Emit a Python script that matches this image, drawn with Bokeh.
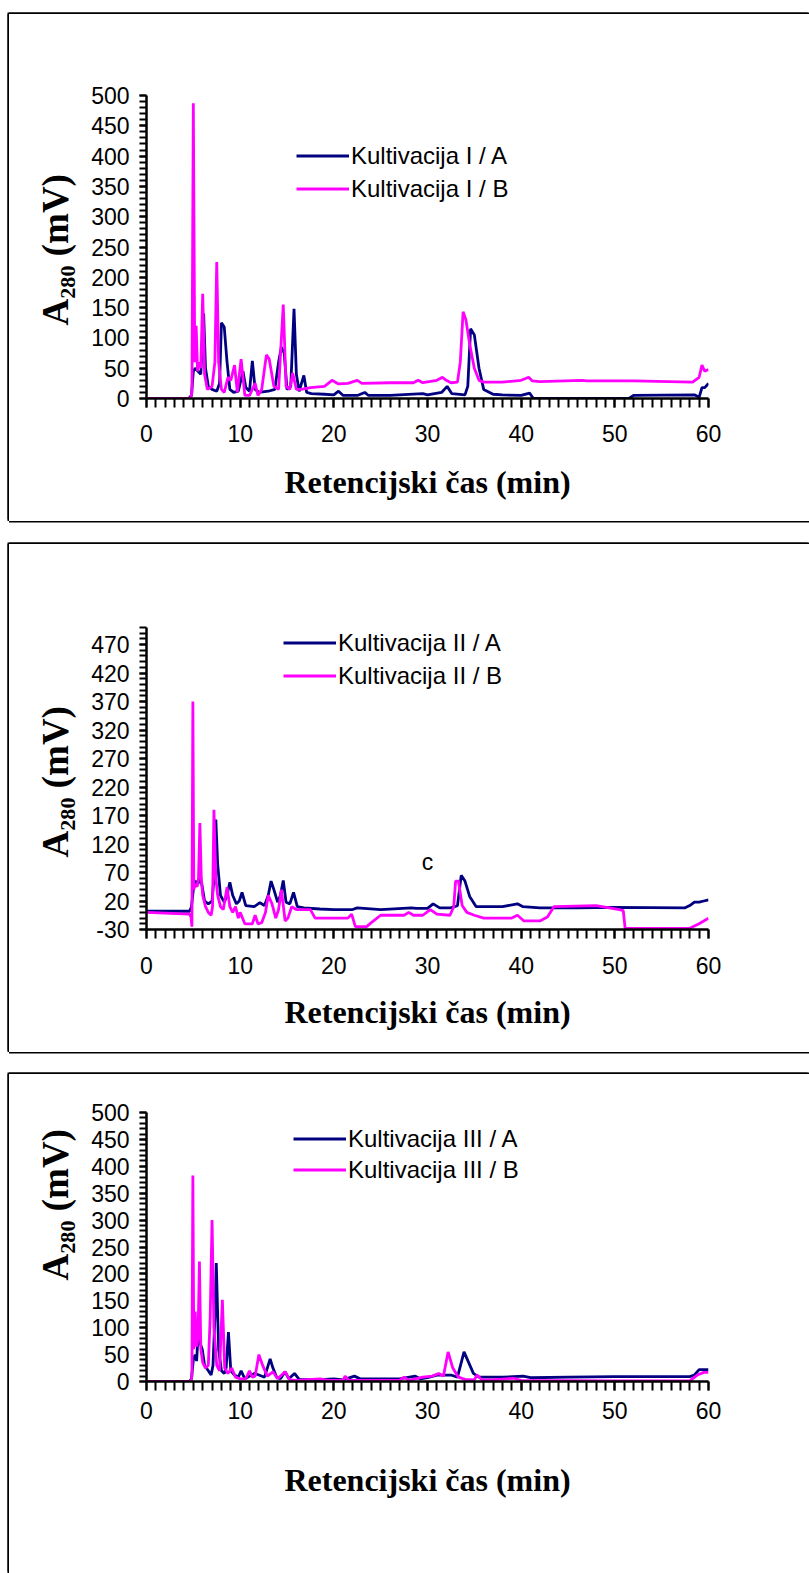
from bokeh.plotting import figure
from bokeh.models import Range1d, FixedTicker, Legend, LegendItem, Label, Title
from bokeh.layouts import column
from bokeh.embed import file_html
from bokeh.resources import INLINE

NAVY = "#000080"
MAG = "#FF00FF"

# ---------------- data ----------------
x_major = [0, 10, 20, 30, 40, 50, 60]
x_minor = list(range(0, 61))

y_major_1 = [0, 50, 100, 150, 200, 250, 300, 350, 400, 450, 500]
y_minor_1 = list(range(0, 501, 10))
y_major_2 = [-30, 20, 70, 120, 170, 220, 270, 320, 370, 420, 470]
y_minor_2 = list(range(-30, 501, 10))

x_title = "Retencijski čas (min)"
y_title = "A\u2082\u2088\u2080 (mV)"
legend_1 = ["Kultivacija I / A", "Kultivacija I / B"]
legend_2 = ["Kultivacija II / A", "Kultivacija II / B"]
legend_3 = ["Kultivacija III / A", "Kultivacija III / B"]

# Panel 1
t1a = [0, 4.5, 4.8, 5.0, 5.2, 5.5, 5.8, 6.1, 6.3, 6.6, 7.0, 7.5, 7.8, 8.0, 8.3, 8.6, 8.9, 9.3, 9.8,
       10.3, 10.6, 11.0, 11.3, 11.6, 12.0, 13.0, 13.7, 14.1, 14.4, 14.7, 15.0, 15.4, 15.75, 16.0,
       16.3, 16.8, 17.1, 17.6, 19.0, 20.0, 20.5, 21.0, 22.5, 23.3, 23.7, 26.0, 29.5, 30.0, 31.5,
       32.1, 32.6, 34.0, 34.3, 34.6, 35.0, 35.5, 36.0, 37.0, 38.0, 40.0, 40.9, 41.3, 51.5, 52.0,
       58.5, 59.0, 59.3, 59.6, 60.0]
v1a = [0, 0, 5, 45, 50, 45, 40, 140, 50, 20, 15, 12, 25, 125, 118, 60, 15, 10, 12,
       45, 18, 12, 62, 15, 10, 12, 15, 60, 85, 75, 15, 20, 148, 40,
       12, 38, 10, 8, 7, 6, 12, 5, 5, 10, 5, 5, 8, 6, 10,
       20, 8, 6, 20, 115, 105, 50, 15, 7, 6, 5, 9, 0, 0, 5,
       6, 2, 18, 18, 25]

t1b = [0, 4.7, 4.85, 5.0, 5.15, 5.3, 5.45, 5.6, 5.8, 6.0, 6.2, 6.5, 7.0, 7.3, 7.5, 7.7, 8.0, 8.3,
       8.7, 9.0, 9.4, 9.7, 10.1, 10.5, 11.0, 11.3, 11.6, 11.9, 12.3, 12.8, 13.1, 13.6, 14.1, 14.6,
       14.9, 15.3, 15.6, 16.0, 16.5, 17.5, 19.0, 19.8, 20.5, 21.5, 22.5, 23.0, 26.0, 28.5, 29.0,
       29.5, 31.0, 31.6, 32.0, 32.5, 33.2, 33.5, 33.8, 34.1, 34.5, 35.0, 35.5, 36.0, 38.0, 40.0,
       40.8, 41.2, 42.0, 46.5, 47.0, 52.0, 58.3, 59.0, 59.3, 59.6, 60.0]
v1b = [0, 0, 10, 487, 60, 120, 45, 60, 50, 173, 40, 15, 20, 60, 225, 60, 15, 10,
       35, 30, 55, 10, 65, 5, 5, 15, 25, 5, 15, 72, 65, 20, 15, 155,
       20, 15, 42, 15, 15, 18, 20, 30, 24, 25, 30, 25, 26, 26, 30,
       26, 30, 35, 30, 26, 27, 60, 143, 130, 90, 50, 30, 27, 27, 30,
       35, 29, 28, 30, 29, 29, 27, 35, 55, 45, 48]

# Panel 2
t2a = [0, 4.6, 4.8, 5.0, 5.2, 5.5, 5.7, 5.9, 6.2, 6.6, 7.0, 7.2, 7.4, 7.6, 7.9, 8.3, 8.6, 8.9, 9.2,
       9.6, 9.9, 10.2, 10.6, 11.5, 12.1, 12.6, 13.0, 13.3, 13.6, 14.0, 14.3, 14.6, 14.9, 15.3,
       15.7, 16.1, 16.8, 18.5, 20.0, 22.0, 22.5, 25.0, 28.3, 28.8, 30.0, 30.6, 31.3, 32.5, 33.2,
       33.6, 34.0, 34.5, 35.2, 36.0, 38.0, 39.6, 40.2, 42.0, 46.0, 50.0, 57.5, 58.0, 58.5, 59.0,
       59.5, 60.0]
v2a = [2, 2, 10, 40, 55, 50, 60, 50, 20, 15, 20, 60, 163, 84, 30, 18, 30, 53, 30,
       15, 20, 35, 12, 10, 17, 12, 30, 55, 40, 18, 30, 56, 18, 15,
       35, 10, 8, 6, 5, 5, 8, 5, 8, 7, 7, 15, 8, 8, 12,
       65, 55, 28, 10, 10, 10, 15, 10, 8, 8, 9, 8, 12, 18, 18,
       20, 22]

t2b = [0, 4.6, 4.75, 4.85, 4.95, 5.05, 5.2, 5.4, 5.55, 5.7, 5.85, 6.0, 6.3, 6.6, 6.9, 7.05, 7.2,
       7.4, 7.6, 7.9, 8.2, 8.6, 8.9, 9.2, 9.5, 9.8, 10.0, 10.5, 11.3, 11.6, 11.9, 12.3, 12.7,
       13.0, 13.4, 13.8, 14.1, 14.4, 14.8, 15.1, 15.5, 16.0, 17.5, 18.0, 18.3, 21.5, 21.9, 22.3,
       23.5, 24.0, 25.0, 27.5, 28.0, 28.5, 29.5, 30.3, 31.0, 32.4, 32.8, 33.0, 33.3, 33.7, 34.2,
       35.0, 36.0, 39.0, 39.6, 40.3, 42.0, 42.8, 43.5, 48.0, 50.5, 50.9, 51.1, 57.5, 58.0, 59.0,
       60.0]
v2b = [0, -3, -8, -25, 370, 40, 50, 45, 60, 157, 60, 30, 10, 0, -5, 10, 180,
       60, 30, 10, 5, 44, 10, 0, 10, -10, 0, -20, -20, -5, -20, -18, 0,
       30, 15, -10, 5, 40, -15, -10, 10, 5, 5, -10, -10, -10, -3, -25,
       -25, -18, -5, -5, 0, -5, -5, 5, -3, -5, 10, 55, 55, 12, 0,
       -5, -10, -10, -5, -15, -15, -8, 10, 12, 5, 3, -28, -28, -28, -20,
       -10]

# Panel 3
t3a = [0, 4.6, 4.8, 5.0, 5.2, 5.35, 5.55, 5.75, 5.95, 6.2, 6.6, 6.9, 7.1, 7.3, 7.45, 7.7, 8.0,
       8.3, 8.5, 8.75, 9.0, 9.4, 9.8, 10.1, 10.5, 11.0, 11.5, 12.0, 12.6, 13.2, 13.5, 13.9, 14.3,
       14.8, 15.2, 15.8, 16.3, 18.0, 20.0, 21.0, 22.2, 22.8, 27.0, 28.7, 29.2, 30.0, 31.0, 32.5,
       33.2, 33.9, 34.4, 34.9, 35.5, 38.0, 40.2, 41.0, 45.0, 50.0, 58.0, 58.5, 59.0, 59.4, 60.0]
v3a = [0, 0, 5, 40, 50, 38, 100, 70, 60, 30, 20, 12, 30, 120, 220, 60, 20,
       15, 25, 92, 20, 12, 8, 20, 5, 10, 15, 12, 8, 42, 25, 8, 5,
       18, 5, 15, 4, 3, 5, 3, 10, 5, 5, 10, 5, 7, 12, 12,
       8, 55, 35, 15, 8, 8, 10, 7, 8, 9, 9, 12, 22, 22, 22]

t3b = [0, 4.75, 4.85, 4.95, 5.05, 5.2, 5.35, 5.5, 5.65, 5.8, 6.0, 6.3, 6.6, 6.8, 7.0, 7.2, 7.5,
       7.8, 8.1, 8.35, 8.7, 9.1, 9.5, 10.0, 10.6, 11.0, 11.3, 11.6, 12.0, 12.4, 12.9, 13.5, 14.0,
       14.8, 15.3, 16.0, 18.5, 19.5, 21.0, 21.2, 21.6, 27.0, 27.5, 28.0, 29.5, 30.5, 31.2, 31.7,
       32.2, 32.7, 33.3, 34.0, 35.0, 35.3, 35.8, 37.0, 39.2, 40.0, 50.0, 58.0, 58.8, 59.5, 60.0]
v3b = [0, 0, 10, 383, 60, 130, 65, 80, 223, 60, 35, 25, 30, 120, 300, 100, 30,
       20, 152, 25, 15, 25, 8, 5, 5, 20, 8, 10, 50, 30, 10, 18, 5,
       18, 3, 2, 5, 2, 2, 10, 2, 2, 8, 2, 8, 10, 15, 10,
       55, 25, 8, 4, 3, 12, 3, 3, 6, 2, 1, 1, 12, 17, 17]

SANS = "Liberation Sans"
SERIF = "Liberation Serif"


def make_panel(cfg):
    y0, y1 = cfg["yrange"]
    p = figure(width=800, height=cfg["height"], x_range=Range1d(0, 60),
               y_range=Range1d(y0, y1), output_backend="svg", toolbar_location=None,
               min_border_left=137, min_border_right=101,
               min_border_top=cfg["mbt"], min_border_bottom=cfg["mbb"],
               margin=cfg["margin"],
               styles={"box-shadow": "-1.5px 0 0 0 #000, 0 -1.5px 0 0 #000, -1.5px -1.5px 0 0 #000"
                       + (", 0 1.5px 0 0 #000" if cfg["bottom_border"] else "")})
    p.outline_line_color = None
    p.grid.visible = False
    p.background_fill_color = "white"
    p.border_fill_color = "white"

    xa = p.xaxis[0]
    xa.ticker = FixedTicker(ticks=x_major, minor_ticks=x_minor)
    xa.axis_line_width = 2.5
    xa.axis_line_color = "black"
    xa.major_tick_line_width = 2
    xa.minor_tick_line_width = 2
    xa.major_tick_line_color = "black"
    xa.minor_tick_line_color = "black"
    xa.major_tick_in = 0
    xa.major_tick_out = 9
    xa.minor_tick_in = 0
    xa.minor_tick_out = 9
    xa.major_label_text_font = SANS
    xa.major_label_text_font_size = "23px"
    xa.major_label_text_color = "black"
    xa.major_label_standoff = cfg["xstand"]
    xa.axis_label = x_title
    xa.axis_label_text_font = SERIF
    xa.axis_label_text_font_style = "bold"
    xa.axis_label_text_font_size = "32px"
    xa.axis_label_text_color = "black"
    xa.axis_label_standoff = cfg["xlab_stand"]

    ya = p.yaxis[0]
    ya.ticker = FixedTicker(ticks=cfg["yticks"], minor_ticks=cfg["yminor"])
    ya.axis_line_width = 2.5
    ya.axis_line_color = "black"
    ya.major_tick_line_width = 2
    ya.minor_tick_line_width = 2
    ya.major_tick_line_color = "black"
    ya.minor_tick_line_color = "black"
    ya.major_tick_in = 0
    ya.major_tick_out = 7
    ya.minor_tick_in = 0
    ya.minor_tick_out = 7
    ya.major_label_text_font = SANS
    ya.major_label_text_font_size = "23px"
    ya.major_label_text_color = "black"
    ya.major_label_standoff = 10
    ya.major_label_overrides = {t: str(t) for t in cfg["yticks"]}

    ta, va, tb, vb = cfg["series"]
    ra = p.line(ta, va, line_color=NAVY, line_width=2.8)
    rb = p.line(tb, vb, line_color=MAG, line_width=2.8)

    leg = Legend(items=[LegendItem(label=cfg["legend"][0], renderers=[ra]),
                        LegendItem(label=cfg["legend"][1], renderers=[rb])],
                 location=cfg["legloc"], orientation="vertical",
                 glyph_width=53, glyph_height=cfg["glyph_h"], label_height=cfg["glyph_h"],
                 label_standoff=2, spacing=0, padding=0, margin=0,
                 border_line_color=None, background_fill_alpha=0,
                 label_text_font=SANS, label_text_font_size="24px", label_text_color="black")
    p.add_layout(leg)

    yt = Title(text=y_title, align="left", offset=cfg["ylab_off"], vertical_align="bottom",
               standoff=26, text_font=SERIF, text_font_style="bold", text_font_size="37px",
               text_color="black")
    p.add_layout(yt, "left")
    return p


p1 = make_panel(dict(height=507, yrange=(0, 500), mbt=81, mbb=123, margin=(14, 0, 0, 9),
                     bottom_border=True, yticks=y_major_1, yminor=y_minor_1, xstand=17,
                     xlab_stand=19, series=(t1a, v1a, t1b, v1b), legend=legend_1,
                     legloc=(150, 193), glyph_h=33, ylab_off=73))
p2 = make_panel(dict(height=508, yrange=(-30, 500), mbt=83, mbb=123, margin=(23, 0, 0, 9),
                     bottom_border=True, yticks=y_major_2, yminor=y_minor_2, xstand=18,
                     xlab_stand=17, series=(t2a, v2a, t2b, v2b), legend=legend_2,
                     legloc=(137, 237), glyph_h=33, ylab_off=72))
p2.add_layout(Label(x=30, y=88, text="c", text_align="center", text_baseline="alphabetic",
                    text_font=SANS, text_font_size="23px", text_color="black"))
p3 = make_panel(dict(height=499, yrange=(0, 500), mbt=38, mbb=192, margin=(22, 0, 0, 9),
                     bottom_border=False, yticks=y_major_1, yminor=y_minor_1, xstand=11,
                     xlab_stand=40, series=(t3a, v3a, t3b, v3b), legend=legend_3,
                     legloc=(147, 196), glyph_h=31, ylab_off=101))

layout = column(p1, p2, p3)
open("out.html", "w").write(file_html(layout, INLINE))
